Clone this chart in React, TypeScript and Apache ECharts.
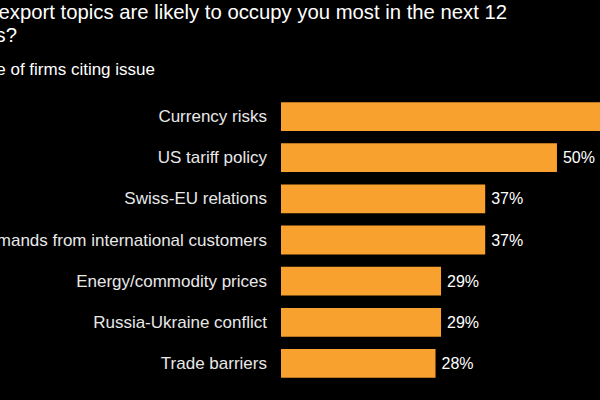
import React, { useEffect, useRef } from "react";
import * as echarts from "echarts";

const categories = [
  "Currency risks",
  "US tariff policy",
  "Swiss-EU relations",
  "Demands from international customers",
  "Energy/commodity prices",
  "Russia-Ukraine conflict",
  "Trade barriers",
];
const values = [62, 50, 37, 37, 29, 29, 28];

const titleLine1 = "What export topics are likely to occupy you most in the next 12";
const titleLine2 = "months?";
const subtitle = "Share of firms citing issue";

const FONT = "'Liberation Sans', Arial, sans-serif";

export default function App() {
  const ref = useRef<HTMLDivElement>(null);
  useEffect(() => {
    if (!ref.current) return;
    const chart = echarts.init(ref.current, undefined, { renderer: "svg" });
    const tSize = 20.3;
    const sSize = 17;
    chart.setOption({
      animation: false,
      backgroundColor: "#000000",
      graphic: [
        {
          type: "text",
          x: 507,
          y: 2,
          style: { text: titleLine1, fill: "#ffffff", font: `${tSize}px ${FONT}`, textAlign: "right" },
        },
        {
          type: "text",
          x: 17,
          y: 25,
          style: { text: titleLine2, fill: "#ffffff", font: `${tSize}px ${FONT}`, textAlign: "right" },
        },
        {
          type: "text",
          x: 155,
          y: 61,
          style: { text: subtitle, fill: "#ffffff", font: `${sSize}px ${FONT}`, textAlign: "right" },
        },
      ],
      grid: { left: 281, top: 96, right: 0, bottom: 16, outerBoundsMode: "none", containLabel: false },
      xAxis: {
        type: "value",
        min: 0,
        max: 57.8,
        show: false,
      },
      yAxis: {
        type: "category",
        inverse: true,
        data: categories,
        axisLine: { show: false },
        axisTick: { show: false },
        axisLabel: { color: "#e8e8e8", fontSize: 17, fontFamily: FONT, margin: 14 },
      },
      series: [
        {
          type: "bar",
          data: values,
          barCategoryGap: "30%",
          clip: false,
          itemStyle: { color: "#F9A12E" },
          label: {
            show: true,
            position: "right",
            distance: 6,
            formatter: "{c}%",
            color: "#ffffff",
            fontSize: 16,
            fontFamily: FONT,
          },
        },
      ],
    });
    return () => chart.dispose();
  }, []);
  return (
    <div
      ref={ref}
      style={{ position: "fixed", left: 0, top: 0, width: 600, height: 400, background: "#000" }}
    />
  );
}
